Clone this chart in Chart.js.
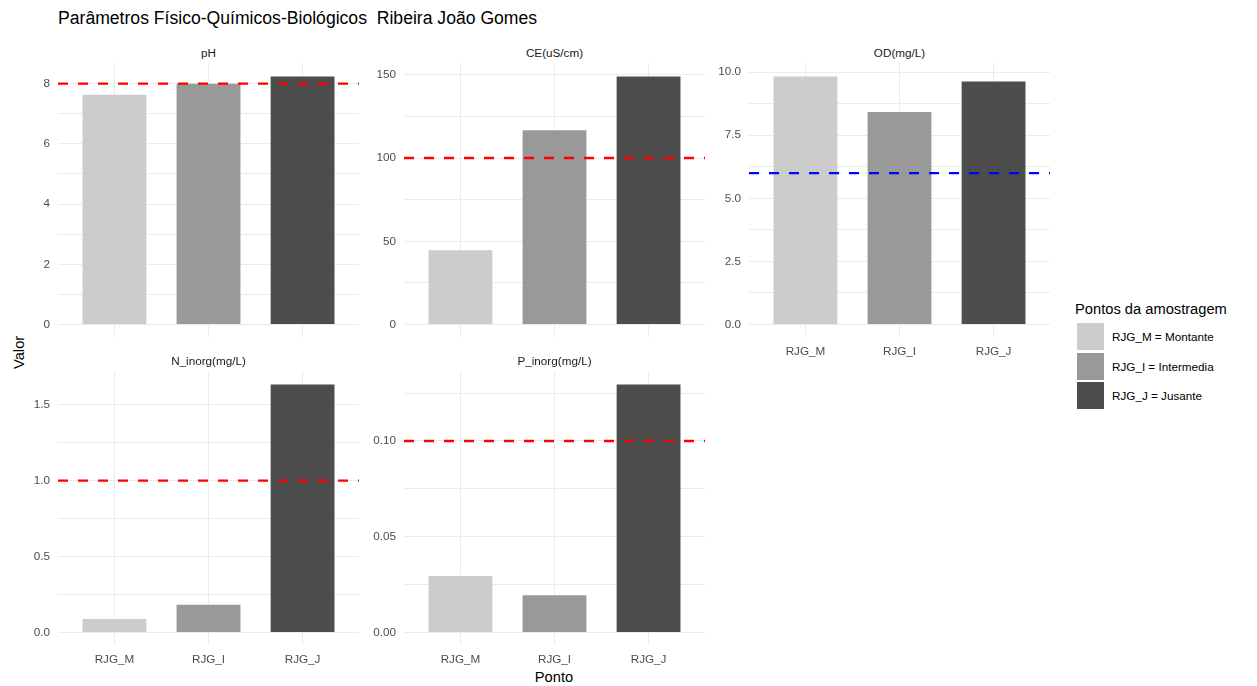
<!DOCTYPE html>
<html>
<head>
<meta charset="utf-8">
<script src="https://cdn.jsdelivr.net/npm/chart.js@4/dist/chart.umd.min.js"></script>
<style>
  body { margin: 0; background: #fff; font-family: "Liberation Sans", Arial, sans-serif; }
  #wrap { position: relative; width: 1257px; height: 686px; overflow: hidden; }
  canvas { position: absolute; }
  .txt { position: absolute; white-space: pre; }
  .strip { font-size: 11.7px; color: #1a1a1a; text-align: center; width: 301px; line-height: 14px; }
  .key { position: absolute; width: 27px; height: 27px; }
  .klab { position: absolute; font-size: 11.7px; color: #000; line-height: 14px; }
</style>
</head>
<body>
<div id="wrap">
  <div class="txt" style="left:58px; top:7px; font-size:17.6px; line-height:22px; color:#000;">Parâmetros Físico-Químicos-Biológicos  Ribeira João Gomes</div>
  <div class="txt" style="left:4px; top:345px; font-size:14.7px; line-height:18px; transform:rotate(-90deg); transform-origin:center; width:30px; text-align:center;">Valor</div>
  <div class="txt" style="left:504px; top:668px; width:100px; text-align:center; font-size:14.7px; line-height:18px;">Ponto</div>
  <div class="txt" style="left:1075px; top:300px; font-size:14.7px; line-height:18px;">Pontos da amostragem</div>
  <div id="legend"></div>
</div>

<script>
const categories = ['RJG_M', 'RJG_I', 'RJG_J'];
const legendLabels = ['RJG_M = Montante', 'RJG_I = Intermedia', 'RJG_J = Jusante'];
const barColors = ['#cccccc', '#999999', '#4d4d4d'];

const parametros = ['pH', 'CE(uS/cm)', 'OD(mg/L)', 'N_inorg(mg/L)', 'P_inorg(mg/L)'];
const phValues = [7.66, 8.03, 8.27];
const ceValues = [45.2, 117.3, 149.6];
const odValues = [9.87, 8.46, 9.67];
const nValues = [0.095, 0.19, 1.64];
const pValues = [0.03, 0.02, 0.13];

const limites = [8, 100, 6, 1.0, 0.10];
const limiteCores = ['#ff0000', '#ff0000', '#0000ff', '#ff0000', '#ff0000'];

const phTicks = ['0', '2', '4', '6', '8'];
const ceTicks = ['0', '50', '100', '150'];
const odTicks = ['0.0', '2.5', '5.0', '7.5', '10.0'];
const nTicks = ['0.0', '0.5', '1.0', '1.5'];
const pTicks = ['0.00', '0.05', '0.10'];

const valores = [phValues, ceValues, odValues, nValues, pValues];
const ticksY = [phTicks, ceTicks, odTicks, nTicks, pTicks];

// where each facet's plot area sits on the page
const panels = [
  { left: 58, top: 63, xLabels: false },
  { left: 404, top: 63, xLabels: false },
  { left: 749, top: 63, xLabels: true },
  { left: 58, top: 371, xLabels: true },
  { left: 404, top: 371, xLabels: true }
];
const plotW = 301, plotH = 274, axisW = 48, padTop = 10, axisH = 30;

const wrap = document.getElementById('wrap');

// legend
const legend = document.getElementById('legend');
legendLabels.forEach(function(lab, i) {
  const k = document.createElement('div');
  k.className = 'key';
  k.style.left = '1077px';
  k.style.top = (323 + i * 29.5) + 'px';
  k.style.background = barColors[i];
  legend.appendChild(k);
  const t = document.createElement('div');
  t.className = 'klab';
  t.style.left = '1112px';
  t.style.top = (330 + i * 29.5) + 'px';
  t.textContent = lab;
  legend.appendChild(t);
});

const hline = {
  id: 'hline',
  afterDatasetsDraw(chart, args, opts) {
    const ctx = chart.ctx;
    const y = chart.scales.y.getPixelForValue(opts.value);
    const area = chart.chartArea;
    ctx.save();
    ctx.strokeStyle = opts.color;
    ctx.lineWidth = 2.4;
    ctx.setLineDash([10, 10]);
    ctx.beginPath();
    ctx.moveTo(area.left, y);
    ctx.lineTo(area.right, y);
    ctx.stroke();
    ctx.restore();
  }
};

panels.forEach(function(p, i) {
  const strip = document.createElement('div');
  strip.className = 'txt strip';
  strip.style.left = p.left + 'px';
  strip.style.top = (p.top - 17) + 'px';
  strip.textContent = parametros[i];
  wrap.appendChild(strip);

  const cv = document.createElement('canvas');
  cv.width = axisW + plotW + 2;
  cv.height = padTop + plotH + axisH;
  cv.style.left = (p.left - axisW) + 'px';
  cv.style.top = (p.top - padTop) + 'px';
  wrap.appendChild(cv);

  const vals = valores[i];
  const majors = ticksY[i].map(Number);
  const top = Math.max(...vals, limites[i]);
  const yMin = -0.05 * top, yMax = 1.05 * top;
  const step = majors[1] - majors[0];
  let all = majors.slice();
  for (let m = -1; m < majors.length; m++) {
    const mid = (m < 0 ? majors[0] : majors[m]) + (m < 0 ? -step / 2 : step / 2);
    if (mid >= yMin && mid <= yMax) all.push(mid);
  }
  all.sort(function(a, b) { return a - b; });

  new Chart(cv.getContext('2d'), {
    type: 'bar',
    data: {
      datasets: [{
        data: vals.map(function(v, j) { return { x: j + 1, y: v }; }),
        backgroundColor: barColors,
        borderColor: 'rgba(255,255,255,0.35)',
        borderWidth: 1,
        barPercentage: 0.7,
        categoryPercentage: 1.0
      }]
    },
    options: {
      responsive: false,
      animation: false,
      layout: { padding: { top: padTop, right: 2, bottom: 0, left: 0 } },
      plugins: {
        legend: { display: false },
        tooltip: { enabled: false },
        hline: { value: limites[i], color: limiteCores[i] }
      },
      scales: {
        x: {
          type: 'linear',
          min: 0.4,
          max: 3.6,
          offset: false,
          afterBuildTicks: function(s) { s.ticks = categories.map(function(c, j) { return { value: j + 1 }; }); },
          afterFit: function(s) { s.height = axisH; s.paddingLeft = 0; s.paddingRight = 0; },
          grid: { color: '#ebebeb', lineWidth: 1, drawTicks: false, offset: false },
          border: { display: false },
          ticks: {
            display: p.xLabels,
            padding: 8,
            maxRotation: 0,
            autoSkip: false,
            color: '#4d4d4d',
            font: { family: 'Liberation Sans, Arial, sans-serif', size: 11.7 },
            callback: function(v, idx) { return categories[idx]; }
          }
        },
        y: {
          min: yMin,
          max: yMax,
          afterBuildTicks: function(s) { s.ticks = all.map(function(v) { return { value: v }; }); },
          afterFit: function(s) { s.width = axisW; s.paddingTop = 0; s.paddingBottom = 0; },
          grid: { color: '#ebebeb', lineWidth: 1, drawTicks: false },
          border: { display: false },
          ticks: {
            padding: 8,
            autoSkip: false,
            color: '#4d4d4d',
            font: { family: 'Liberation Sans, Arial, sans-serif', size: 11.7 },
            callback: function(v) {
              const k = majors.findIndex(function(m) { return Math.abs(m - v) < 1e-9; });
              return k >= 0 ? ticksY[i][k] : '';
            }
          }
        }
      }
    },
    plugins: [hline]
  });
});
</script>
</body>
</html>
